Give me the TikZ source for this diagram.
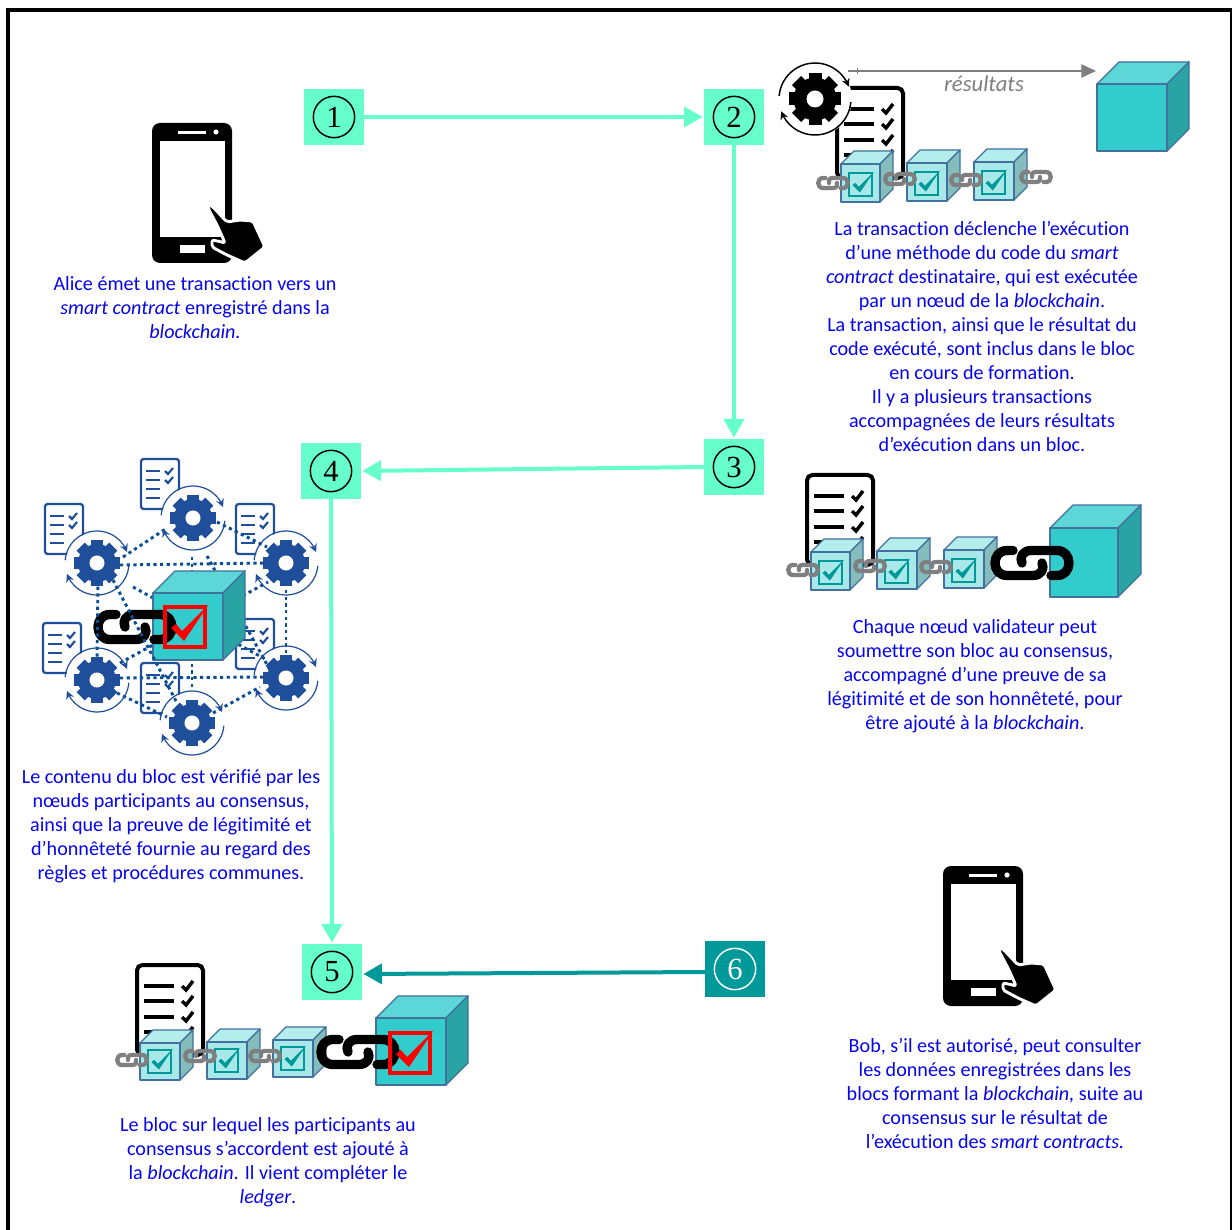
\documentclass[tikz,border=0pt]{standalone}
\usepackage{fontspec}
\setmainfont[Ligatures=NoCommon]{Carlito}
\newfontfamily\digitfont{Liberation Serif}
\usetikzlibrary{arrows.meta}
\definecolor{mint}{HTML}{66FFCC}
\definecolor{deepteal}{HTML}{009999}
\definecolor{txtblue}{HTML}{0505F0}
\definecolor{gearblue}{HTML}{1F4E9A}
\definecolor{dotblue}{HTML}{0B4F96}
\definecolor{edgeblue}{HTML}{41719C}
\definecolor{bigF}{HTML}{33CCCC}
\definecolor{bigT}{HTML}{5CD6D6}
\definecolor{bigS}{HTML}{29A3A3}
\definecolor{paleF}{HTML}{A8E8E8}
\definecolor{paleT}{HTML}{B4EEEC}
\definecolor{paleS}{HTML}{85BDBD}
\definecolor{chaingrey}{HTML}{7F7F7F}
\tikzset{
  numbox/.style={rectangle,fill=mint,minimum width=45pt,minimum height=42pt,inner sep=0pt,outer sep=0pt},
  numring/.style={circle,draw=black,line width=1.1pt,minimum size=31pt,inner sep=0pt,font=\fontsize{23}{23}\selectfont\digitfont},
  flow/.style={draw=mint,line width=3pt,-{Triangle[length=14pt,width=15pt]},shorten >=1pt},
  flowdark/.style={draw=deepteal,line width=3pt,-{Triangle[length=14pt,width=15pt]},shorten >=1pt},
  body/.style={text=txtblue,align=center,inner sep=0pt,font=\fontsize{15.1}{18}\selectfont},
  edge/.style={draw=edgeblue,line width=1pt,line join=round},
  netdots/.style={draw=dotblue,line width=2.2pt,dash pattern=on 2.4pt off 2.6pt},
}
% cube: x y w h d  prefix
\newcommand{\blockcube}[6]{%
  \path[edge,fill=#6T] (#1,#2) -- ({#1+#5},{#2-#5}) -- ({#1+#3+#5},{#2-#5}) -- ({#1+#3},#2) -- cycle;
  \path[edge,fill=#6S] ({#1+#3},#2) -- ({#1+#3+#5},{#2-#5}) -- ({#1+#3+#5},{#2+#4-#5}) -- ({#1+#3},{#2+#4}) -- cycle;
  \path[edge,fill=#6F] (#1,#2) rectangle ({#1+#3},{#2+#4});
}
% tick box: x y size colour linewidth
\newcommand{\tickbox}[5]{%
  \draw[#4,line width=#5] (#1,#2) rectangle ({#1+#3},{#2+#3});
  \begin{scope}[shift={(#1,#2)},scale=#3/40]
    \fill[#4] (6,21) -- (11,17) -- (17,24) -- (44,-3) -- (19,34) -- cycle;
  \end{scope}
}
% chain link: cx cy scale colour linewidth
\newcommand{\chainlink}[5]{%
  \begin{scope}[shift={(#1,#2)},scale=#3]
    \draw[#4,line width=#5,line cap=round,line join=round]
      (-19,-12.5) -- (-25,-12.5) .. controls (-41,-12.5) and (-41,12.5) .. (-25,12.5) -- (1,12.5) .. controls (9,12.5) and (13,6) .. (10,0);
    \draw[#4,line width=#5,line cap=round,line join=round]
      (-10,0) .. controls (-13,-6) and (-9,-12.5) .. (-1,-12.5) -- (25,-12.5) .. controls (41,-12.5) and (41,12.5) .. (25,12.5) -- (19,12.5);
  \end{scope}
}
% black document: x y
\newcommand{\listdoc}[2]{%
  \begin{scope}[shift={(#1,#2)}]
    \draw[black,line width=3pt,fill=white,rounded corners=4pt] (2,2) rectangle (68,92);
    \foreach \yy in {23,38,54,69}{%
      \draw[black,line width=3pt] (9,\yy) -- (39,\yy);
      \draw[black,line width=2.6pt] (47,\yy) -- (51,{\yy+4}) -- (58,{\yy-5});
    }
  \end{scope}
}
% blue document: x y
\newcommand{\bluedoc}[2]{%
  \begin{scope}[shift={(#1,#2)}]
    \draw[gearblue,line width=1.7pt,fill=white,rounded corners=2pt] (1,1) rectangle (39,51);
    \foreach \yy in {13,22,31,40}{\draw[gearblue,line width=1.7pt] (6,\yy) -- (20,\yy);}
    \foreach \yy in {13,22}{\draw[gearblue,line width=1.6pt] (25,\yy) -- (28,{\yy+3}) -- (33,{\yy-3});}
  \end{scope}
}
% gear teeth and hole: cx cy R colour
\newcommand{\gearwheel}[4]{%
  \begin{scope}[shift={(#1,#2)},scale=#3/26]
    \foreach \a in {0,45,...,315}{%
      \fill[#4,rotate=\a] (-6.5,-26) rectangle (6.5,0);
    }
    \fill[#4] (0,0) circle (21.5);
    \fill[white] (0,0) circle (8.5);
  \end{scope}
}
% turning arrows round a gear: cx cy radius colour linewidth
\newcommand{\gearturn}[5]{%
  \begin{scope}[shift={(#1,#2)}]
    \draw[#4,line width=#5,-{Stealth[length=6pt,width=6pt,open]}]
      plot[smooth,domain=185:340,samples=16] ({#3*cos(\x)},{#3*sin(\x)});
    \draw[#4,line width=#5,-{Stealth[length=6pt,width=6pt,open]}]
      plot[smooth,domain=5:160,samples=16] ({#3*cos(\x)},{#3*sin(\x)});
  \end{scope}
}
% phone: x y
\newcommand{\phonehand}[2]{%
  \begin{scope}[shift={(#1,#2)}]
    \fill[black,rounded corners=6pt] (0,0) rectangle (80,140);
    \fill[white] (8,18) rectangle (73,114);
    \fill[white] (26,8) rectangle (54,11);
    \fill[white] (64,9) circle (2.6);
    \fill[white] (28,122) rectangle (53,130);
    \draw[white,line width=2.2pt,fill=black,line join=round,rounded corners=1.5pt]
      (57,81) -- (61,84) -- (75,99) -- (88,97) -- (101,98) -- (113,124) -- (93,140) -- (75,132) -- (60,124) -- (60,117) -- (70,119) -- (73,120) -- (66,104) -- (56,85) -- cycle;
  \end{scope}
}
\begin{document}
\begin{tikzpicture}[x=0.75pt,y=-0.75pt]
\useasboundingbox (0,0) rectangle (1232,1230);
\clip (0,0) rectangle (1232,1230);
\fill[white] (0,0) rectangle (1232,1230);
% frame
\draw[black,line width=3pt] (8,1240) -- (8,10) -- (1231.5,10) -- (1231.5,1240);

% numbered squares
\node[numbox] (n1) at (334,117) {};
\node[numbox] (n2) at (734,117) {};
\node[numbox] (n3) at (734,467) {};
\node[numbox] (n4) at (331,471) {};
\node[numbox] (n5) at (332,972) {};
\node[numbox,fill=deepteal] (n6) at (735,969) {};
\node[numring] (c1) at (n1) {1};
\node[numring] (c2) at (n2) {2};
\node[numring] (c3) at (n3) {3};
\node[numring] (c4) at (n4) {4};
\node[numring] (c5) at (n5) {5};
\node[numring,draw=white,text=white] (c6) at (n6) {6};
% flow arrows
\draw[flow] (n1.east) -- (n2.west);
\draw[flow] (n2.south) -- (n3.north);
\draw[flow] (n3.west) -- (n4.east);
\draw[flow] (n4.south) -- (n5.north);
\draw[flowdark] ([yshift=-2.25pt]n6.west) -- ([yshift=-1.5pt]n5.east);

% ---- step 1
\phonehand{152}{123}
\node[body] (t1) at (195,307.5) {Alice émet une transaction vers un\\\textit{smart contract} enregistré dans la\\\textit{blockchain.}};

% ---- step 2
\listdoc{835}{86}
\fill[white] (815,99) circle (37);
\gearwheel{815}{99}{26}{black}
\gearturn{815}{99}{36}{black}{1.1pt}
\blockcube{841}{164}{39}{38}{13}{pale}
\blockcube{907}{163}{40}{38}{13}{pale}
\blockcube{974}{162}{40}{38}{13}{pale}
\tickbox{849}{173}{23}{deepteal}{1.4pt}
\tickbox{915}{172}{23}{deepteal}{1.4pt}
\tickbox{982}{171}{23}{deepteal}{1.4pt}
\chainlink{833}{183}{0.4}{chaingrey}{3.2pt}
\chainlink{900}{179}{0.4}{chaingrey}{3.2pt}
\chainlink{966}{180}{0.4}{chaingrey}{3.2pt}
\chainlink{1036}{177}{0.4}{chaingrey}{3.2pt}
\blockcube{1097}{84}{70}{67}{22}{big}
\coordinate (r0) at (848,71);
\coordinate (r1) at (1096,71);
\draw[chaingrey,line width=0.8pt,-{Triangle[length=11pt,width=10pt]}] (r0) -- (r1);
\draw[chaingrey,line width=0.6pt] (857,68) -- (857,74);
\node[text=chaingrey,font=\fontsize{17}{18}\selectfont\itshape,inner sep=0pt] (res) at (984,84) {résultats};
\node[body] (t2) at (982,336) {La transaction déclenche l’exécution\\d’une méthode du code du \textit{smart}\\\textit{contract} destinataire, qui est exécutée\\par un nœud de la \textit{blockchain}.\\La transaction, ainsi que le résultat du\\code exécuté, sont inclus dans le bloc\\en cours de formation.\\Il y a plusieurs transactions\\accompagnées de leurs résultats\\d’exécution dans un bloc.};

% ---- step 3
\listdoc{805}{473}
\blockcube{811}{552}{39}{38}{13}{pale}
\blockcube{877}{551}{40}{38}{13}{pale}
\blockcube{944}{550}{40}{38}{13}{pale}
\tickbox{819}{561}{23}{deepteal}{1.4pt}
\tickbox{885}{560}{23}{deepteal}{1.4pt}
\tickbox{952}{559}{23}{deepteal}{1.4pt}
\chainlink{803}{570}{0.4}{chaingrey}{3.2pt}
\chainlink{870}{566}{0.4}{chaingrey}{3.2pt}
\chainlink{936}{567}{0.4}{chaingrey}{3.2pt}
\blockcube{1050}{528}{68}{69}{23}{big}
\chainlink{1032}{563}{1}{black}{7pt}
\node[body] (t3) at (975,676) {Chaque nœud validateur peut\\soumettre son bloc au consensus,\\accompagné d’une preuve de sa\\légitimité et de son honnêteté, pour\\être ajouté à la \textit{blockchain}.};

% ---- step 4
\bluedoc{140}{458}
\bluedoc{44}{503}
\bluedoc{235}{503}
\bluedoc{42}{622}
\bluedoc{140}{662}
\bluedoc{235}{618}
\foreach \gx/\gy in {193/518,97/563,286/563,97/680,286/678,192/723}{\fill[white] (\gx,\gy) circle (31);}
\draw[netdots] (123,557) -- (167,528);
\draw[netdots] (217,522) -- (267,547);
\draw[netdots] (120,565) -- (268,563);
\draw[netdots] (286,590) -- (286,657);
\draw[netdots] (120,678) -- (267,677);
\draw[netdots] (117,693) -- (167,717);
\draw[netdots] (213,713) -- (260,687);
\draw[netdots] (192,557) -- (192,687);
\draw[netdots] (207,556) -- (270,670);
\draw[netdots] (133,587) -- (267,660);
\draw[netdots] (120,663) -- (268,582);
\foreach \gx/\gy in {193/518,97/563,286/563,97/680,286/678,192/723}{%
  \gearwheel{\gx}{\gy}{23}{gearblue}
  \gearturn{\gx}{\gy}{32}{gearblue}{0.9pt}
}
\blockcube{153}{593}{70}{67}{22}{big}
\chainlink{135}{627}{1}{black}{7pt}
\draw[netdots] (98,580) -- (97,660);
\draw[netdots] (113,580) -- (177,703);
\tickbox{165}{607}{40}{red}{3pt}
\node[body] (t4) at (171,826) {Le contenu du bloc est vérifié par les\\nœuds participants au consensus,\\ainsi que la preuve de légitimité et\\d’honnêteté fournie au regard des\\règles et procédures communes.};

% ---- step 5
\listdoc{135}{963}
\blockcube{140}{1043}{40}{37}{13}{pale}
\blockcube{207}{1042}{40}{37}{13}{pale}
\blockcube{273}{1040}{40}{37}{13}{pale}
\tickbox{148}{1050}{23}{deepteal}{1.4pt}
\tickbox{215}{1049}{23}{deepteal}{1.4pt}
\tickbox{281}{1047}{23}{deepteal}{1.4pt}
\chainlink{132}{1060}{0.4}{chaingrey}{3.2pt}
\chainlink{200}{1056}{0.4}{chaingrey}{3.2pt}
\chainlink{265}{1056}{0.4}{chaingrey}{3.2pt}
\blockcube{376}{1018}{70}{67}{22}{big}
\chainlink{358}{1052}{1}{black}{7pt}
\tickbox{390}{1033}{40}{red}{3pt}
\node[body] (t5) at (268,1162) {Le bloc sur lequel les participants au\\consensus s’accordent est ajouté à\\la \textit{blockchain}. Il vient compléter le\\\textit{ledger}.};

% ---- step 6
\phonehand{943}{866}
\node[body] (t6) at (995,1093.5) {Bob, s’il est autorisé, peut consulter\\les données enregistrées dans les\\blocs formant la \textit{blockchain,} suite au\\consensus sur le résultat de\\l’exécution des \textit{smart contracts.}};
\end{tikzpicture}
\end{document}
